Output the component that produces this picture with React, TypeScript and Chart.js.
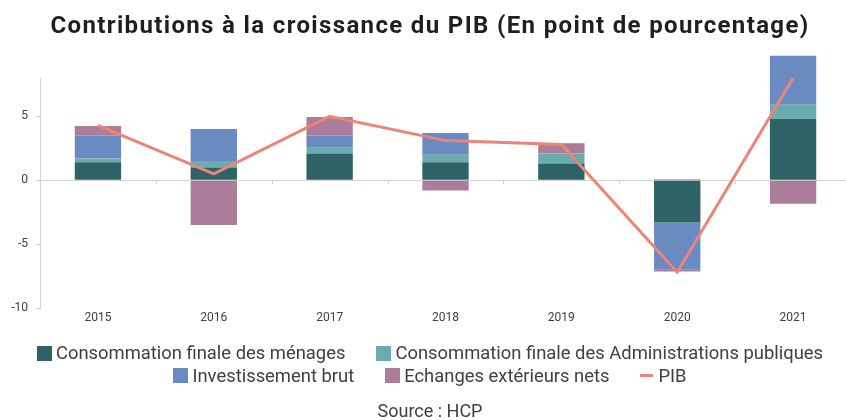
import React, { useEffect, useRef } from "react";
import { Chart, registerables } from "chart.js";

Chart.register(...registerables);

const years = ["2015", "2016", "2017", "2018", "2019", "2020", "2021"];
const menages = [1.4, 1.0, 2.1, 1.4, 1.3, -3.3, 4.8];
const administrations = [0.3, 0.5, 0.45, 0.6, 0.8, 0.1, 1.1];
const investissement = [1.8, 2.5, 0.95, 1.7, -0.05, -3.7, 3.85];
const echanges = [0.75, -3.5, 1.45, -0.8, 0.8, -0.15, -1.85];
const pib = [4.3, 0.5, 5.0, 3.1, 2.8, -7.2, 8.0];
const yTicks = [-10, -5, 0, 5];

const seriesNames = [
  "Consommation finale des ménages",
  "Consommation finale des Administrations publiques",
  "Investissement brut",
  "Echanges extérieurs nets",
  "PIB",
];
const colors = ["#2F6266", "#6AACB0", "#6A8BC1", "#AC7D9A", "#EC8577"];

const FONT = "Roboto";
const TEXT = "#404040";
const AXIS = "#d4d4d4";

export default function App() {
  const ref = useRef<HTMLCanvasElement>(null);

  useEffect(() => {
    if (!ref.current) return;
    const zeroTicks = {
      id: "zeroTicks",
      beforeDatasetsDraw(chart: any) {
        const x = chart.scales.x;
        const y = chart.scales.y;
        const ctx = chart.ctx;
        const y0 = y.getPixelForValue(0);
        ctx.save();
        ctx.strokeStyle = AXIS;
        ctx.lineWidth = 1;
        for (let i = 1; i <= years.length; i++) {
          const px = Math.round(x.getPixelForValue(i - 0.5)) + 0.5;
          ctx.beginPath();
          ctx.moveTo(px, y0);
          ctx.lineTo(px, y0 + 4);
          ctx.stroke();
        }
        ctx.restore();
      },
    };
    const barSets = [menages, administrations, investissement, echanges].map((d, i) => ({
      type: "bar" as const,
      label: seriesNames[i],
      data: d,
      backgroundColor: colors[i],
      borderWidth: 0,
      stack: "contrib",
      order: 1,
      clip: false as any,
    }));
    const chart = new Chart(ref.current, {
      type: "bar",
      data: {
        labels: years,
        datasets: [
          ...barSets,
          {
            type: "line" as const,
            label: seriesNames[4],
            data: pib,
            borderColor: colors[4],
            backgroundColor: colors[4],
            borderWidth: 3,
            pointRadius: 0,
            tension: 0,
            stack: "pib",
            order: 0,
            clip: false as any,
          } as any,
        ],
      },
      options: {
        responsive: false,
        animation: false,
        layout: { padding: { top: 78, left: 0, right: 9, bottom: 92 } },
        plugins: {
          legend: { display: false },
          title: { display: false },
          tooltip: { enabled: false },
        },
        datasets: { bar: { barPercentage: 0.4, categoryPercentage: 1 } },
        scales: {
          x: {
            stacked: true,
            grid: { display: false, drawTicks: false },
            border: { display: false },
            ticks: { color: TEXT, font: { family: FONT, size: 12 }, padding: 3 },
            afterFit: (s: any) => {
              s.height = 20;
            },
          },
          y: {
            stacked: true,
            min: -10,
            max: 8,
            ticks: { stepSize: 5, color: TEXT, font: { family: FONT, size: 12 }, padding: 8 },
            afterBuildTicks: (s: any) => {
              s.ticks = yTicks.map((v) => ({ value: v }));
            },
            grid: {
              color: (c: any) => (c.tick && c.tick.value === 0 ? AXIS : "rgba(0,0,0,0)"),
              tickColor: AXIS,
              tickLength: 4,
              drawTicks: true,
            },
            border: { display: true, color: AXIS },
            afterFit: (s: any) => {
              s.width = 40;
            },
          },
        },
      } as any,
      plugins: [zeroTicks],
    });
    return () => chart.destroy();
  }, []);

  const legendItem = (i: number) => (
    <div key={i} style={{ display: "flex", alignItems: "center" }}>
      {i === 4 ? (
        <div style={{ width: 13, height: 3, background: colors[i], marginRight: 5 }} />
      ) : (
        <div style={{ width: 15, height: 15, background: colors[i], marginRight: 4 }} />
      )}
      <span>{seriesNames[i]}</span>
    </div>
  );

  const rowStyle: React.CSSProperties = {
    position: "absolute",
    left: 0,
    width: 860,
    display: "flex",
    justifyContent: "center",
    gap: 31,
    fontFamily: FONT,
    fontSize: 18.4,
    lineHeight: "22px",
    color: TEXT,
    whiteSpace: "nowrap",
  };

  return (
    <div
      style={{
        position: "absolute",
        left: 0,
        top: 0,
        width: 846,
        height: 420,
        overflow: "hidden",
        background: "#ffffff",
      }}
    >
      <canvas ref={ref} width={860} height={420} style={{ position: "absolute", left: 0, top: 0, width: 860, height: 420 }} />
      <div
        style={{
          position: "absolute",
          left: 0,
          top: 11,
          width: 860,
          textAlign: "center",
          fontFamily: FONT,
          fontWeight: 700,
          fontSize: 24,
          letterSpacing: "1.35px",
          lineHeight: "28px",
          color: "#1f1f1f",
          whiteSpace: "nowrap",
        }}
      >
        Contributions à la croissance du PIB (En point de pourcentage)
      </div>
      <div style={{ ...rowStyle, top: 342 }}>{[0, 1].map(legendItem)}</div>
      <div style={{ ...rowStyle, top: 364.5 }}>{[2, 3, 4].map(legendItem)}</div>
      <div
        style={{
          position: "absolute",
          left: 0,
          top: 401,
          width: 860,
          textAlign: "center",
          fontFamily: FONT,
          fontSize: 18,
          lineHeight: "20px",
          color: TEXT,
        }}
      >
        Source : HCP
      </div>
    </div>
  );
}
